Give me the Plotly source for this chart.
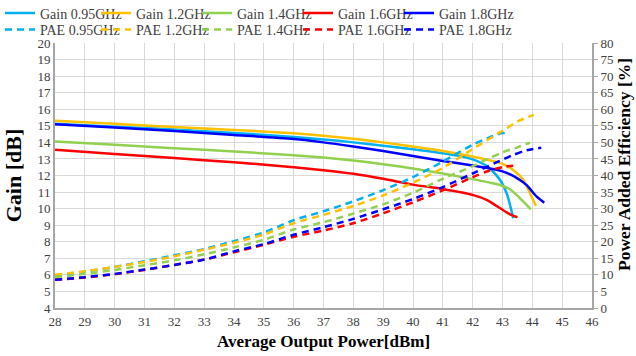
import plotly.graph_objects as go

# ---- data ----
gain_095_x = [28, 30, 32, 34, 36, 37, 38, 39, 40, 41, 41.5, 42, 42.5, 42.92, 43.14, 43.36]
gain_095_y = [15.12, 14.95, 14.77, 14.57, 14.33, 14.18, 14.0, 13.8, 13.58, 13.35, 13.2, 12.97, 12.53, 11.73, 10.93, 9.42]

gain_12_x = [28, 30, 32, 34, 36, 37, 38, 39, 40, 41, 42, 42.5, 43, 43.36, 43.7, 43.92, 44.12]
gain_12_y = [15.3, 15.12, 14.93, 14.75, 14.55, 14.4, 14.22, 14.0, 13.75, 13.48, 13.15, 12.95, 12.7, 12.33, 11.73, 10.93, 10.16]

gain_14_x = [28, 30, 32, 34, 36, 37, 38, 39, 40, 41, 42, 42.5, 42.92, 43.25, 43.59, 43.95]
gain_14_y = [14.05, 13.85, 13.65, 13.45, 13.22, 13.08, 12.9, 12.68, 12.42, 12.12, 11.78, 11.6, 11.43, 11.17, 10.62, 9.96]

gain_16_x = [28, 30, 32, 34, 36, 37, 38, 39, 40, 41, 42, 42.5, 42.92, 43.25, 43.5]
gain_16_y = [13.55, 13.3, 13.05, 12.8, 12.5, 12.32, 12.1, 11.8, 11.45, 11.18, 10.83, 10.5, 10.02, 9.66, 9.48]

gain_18_x = [28, 30, 32, 34, 36, 37, 38, 39, 40, 41, 42, 42.5, 43, 43.5, 43.8, 44.15, 44.4]
gain_18_y = [15.1, 14.9, 14.68, 14.45, 14.2, 14.0, 13.75, 13.48, 13.18, 12.88, 12.6, 12.45, 12.25, 11.83, 11.43, 10.72, 10.36]

pae_095_x = [28, 29, 30, 31, 32, 33, 34, 35, 36, 37, 38, 39, 40, 41, 42, 42.5, 43, 43.2]
pae_095_y = [9.8, 11.0, 12.4, 14.1, 15.9, 17.8, 20.2, 22.8, 26.5, 29.2, 32.2, 35.6, 39.5, 44.2, 49.3, 51.3, 52.8, 52.6]

pae_12_x = [28, 29, 30, 31, 32, 33, 34, 35, 36, 37, 38, 39, 40, 41, 42, 43, 43.5, 44.05]
pae_12_y = [10.0, 11.1, 12.4, 13.9, 15.6, 17.6, 19.7, 22.2, 25.6, 28.1, 30.8, 34.0, 37.8, 42.3, 48.0, 53.5, 56.3, 58.3]

pae_14_x = [28, 29, 30, 31, 32, 33, 34, 35, 36, 37, 38, 39, 40, 41, 42, 42.5, 43, 43.5, 43.92]
pae_14_y = [9.3, 10.3, 11.5, 12.9, 14.4, 16.2, 18.3, 20.6, 23.7, 25.9, 28.5, 31.3, 34.8, 39.0, 42.8, 45.0, 47.0, 48.5, 49.9]

pae_16_x = [28, 29, 30, 31, 32, 33, 34, 35, 36, 37, 38, 39, 40, 41, 42, 42.5, 43, 43.5]
pae_16_y = [8.5, 9.2, 10.2, 11.5, 13.0, 14.6, 16.8, 19.1, 21.5, 23.4, 25.6, 28.6, 31.9, 35.5, 39.5, 41.3, 42.5, 43.1]

pae_18_x = [28, 29, 30, 31, 32, 33, 34, 35, 36, 37, 38, 39, 40, 41, 42, 43, 43.36, 43.8, 44.3]
pae_18_y = [8.5, 9.3, 10.3, 11.6, 13.0, 14.6, 17.1, 19.3, 22.1, 24.4, 26.9, 29.8, 32.9, 36.5, 40.6, 44.8, 46.2, 47.6, 48.4]

gain_names = ["Gain 0.95GHz", "Gain 1.2GHz", "Gain 1.4GHz", "Gain 1.6GHz", "Gain 1.8GHz"]
pae_names = ["PAE 0.95GHz", "PAE 1.2GHz", "PAE 1.4GHz", "PAE 1.6GHz", "PAE 1.8GHz"]
colors = ["#00B0F0", "#FFC000", "#92D050", "#FF0000", "#0000FF"]

x_title = "Average Output Power[dBm]"
y_title = "Gain [dB]"
y2_title = "Power Added Efficiency [%]"

gain_series = [(gain_095_x, gain_095_y), (gain_12_x, gain_12_y), (gain_14_x, gain_14_y),
               (gain_16_x, gain_16_y), (gain_18_x, gain_18_y)]
pae_series = [(pae_095_x, pae_095_y), (pae_12_x, pae_12_y), (pae_14_x, pae_14_y),
              (pae_16_x, pae_16_y), (pae_18_x, pae_18_y)]

FONT = "Liberation Serif"
W, H = 636, 356

fig = go.Figure()
legend_layout = {}
col_text_px = [40, 141, 242, 343, 444]   # legend text column starts (px)
row_center_px = [13.5, 30]

k = 0
for row, (series, names, dash, yax) in enumerate([(gain_series, gain_names, None, "y"),
                                                   (pae_series, pae_names, "7px,5px", "y2")]):
    for i, ((xs, ys), name, c) in enumerate(zip(series, names, colors)):
        k += 1
        lid = "legend" if k == 1 else f"legend{k}"
        line = dict(color=c, width=2.5, shape="spline", smoothing=0.8)
        if dash:
            line["dash"] = dash
        fig.add_trace(go.Scatter(x=xs, y=ys, name=name, mode="lines", yaxis=yax,
                                 line=line, legend=lid))
        legend_layout[lid] = dict(
            orientation="h", xref="container", yref="container",
            x=(col_text_px[i] - 45) / W, y=1 - row_center_px[row] / H,
            xanchor="left", yanchor="middle",
            font=dict(family=FONT, size=14, color="#404040"),
            bgcolor="rgba(0,0,0,0)", itemwidth=30, borderwidth=0)

grid = "#D9D9D9"
axis_line = "#A6A6A6"
tick_font = dict(family=FONT, size=13, color="#404040")

fig.update_layout(
    width=W, height=H,
    margin=dict(l=55, r=44, t=43, b=48, autoexpand=False),
    paper_bgcolor="white", plot_bgcolor="white",
    showlegend=True,
    xaxis=dict(range=[28, 46], dtick=1, tick0=28, showgrid=True, gridcolor=grid, gridwidth=1,
               showline=True, linecolor=axis_line, linewidth=2, ticks="", zeroline=False,
               tickfont=tick_font, automargin=False,
               title=dict(text=x_title, font=dict(family=FONT, size=17, color="black", weight="bold"), standoff=8)),
    yaxis=dict(range=[4, 20], dtick=1, tick0=4, showgrid=True, gridcolor=grid, gridwidth=1,
               showline=True, linecolor=axis_line, linewidth=2, ticks="", zeroline=False,
               tickfont=tick_font, automargin=False,
               title=dict(text=y_title, font=dict(family=FONT, size=22, color="black", weight="bold"), standoff=10)),
    yaxis2=dict(range=[0, 80], dtick=5, tick0=0, overlaying="y", side="right", showgrid=False,
                showline=True, linecolor=axis_line, linewidth=2, ticks="outside", ticklen=4,
                tickcolor=axis_line, zeroline=False, tickfont=tick_font, automargin=False),
    annotations=[dict(text=y2_title, xref="paper", yref="paper", x=1 + 32 / (W - 55 - 44),
                      y=(308 - 165) / (308 - 43), xanchor="center", yanchor="middle",
                      textangle=-90, showarrow=False,
                      font=dict(family=FONT, size=17.5, color="black", weight="bold"))],
    **legend_layout,
)

fig.write_html("out.html", config={"displayModeBar": False},
               post_script="document.body.style.margin='0';document.body.style.overflow='hidden';")
